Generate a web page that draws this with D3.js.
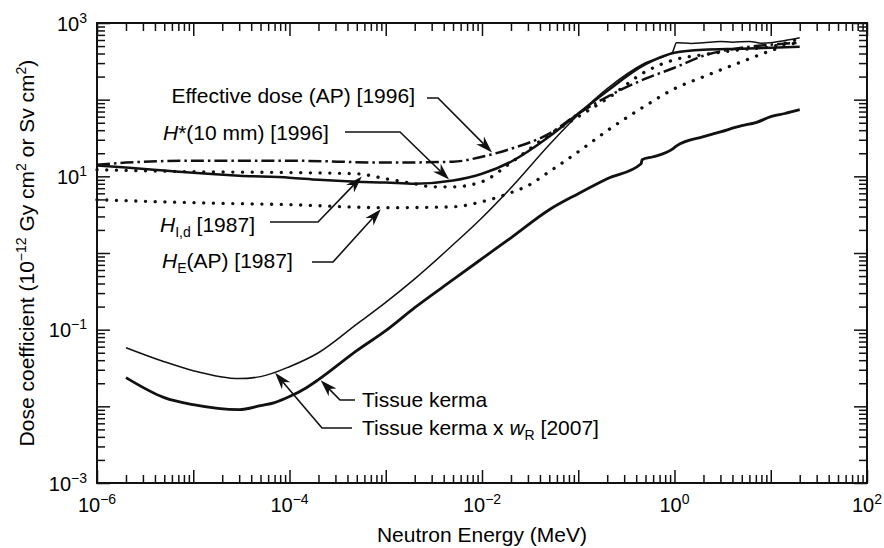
<!DOCTYPE html>
<html>
<head>
<meta charset="utf-8">
<script src="https://cdn.jsdelivr.net/npm/d3@7/dist/d3.min.js"></script>
<style>
  body { margin: 0; background: #fff; }
  #chart svg { display: block; font-family: "Liberation Sans", Arial, Helvetica, sans-serif; }
  #chart text { white-space: pre; }
</style>
</head>
<body>
<div id="chart"></div>
<script>
// values
// neutron energy (MeV) and dose coefficient (1e-12 Gy cm2 or Sv cm2)

const kermaE = [2e-6, 5e-6, 1e-5, 3e-5, 5e-5, 7e-5, 1e-4, 1.5e-4, 2e-4, 5e-4, 1e-3, 2e-3, 5e-3, 1e-2, 2e-2, 5e-2, 0.1, 0.2, 0.45, 0.46, 0.6, 0.95, 1.05, 2, 3, 5, 7, 10, 14, 20];
const kermaV = [0.0237, 0.0130, 0.0105, 0.00904, 0.0102, 0.0112, 0.0134, 0.0175, 0.0223, 0.0532, 0.097, 0.194, 0.449, 0.843, 1.58, 3.67, 5.94, 9.3, 14.6, 16.5, 18.0, 22.6, 25.0, 32.9, 38, 45.8, 50.1, 60, 66, 74];

const kermaWrE = [2e-6, 5e-6, 1e-5, 3e-5, 5e-5, 1e-4, 2e-4, 5e-4, 1e-3, 2e-3, 5e-3, 1e-2, 2e-2, 5e-2, 0.1, 0.2, 0.5, 0.95, 1.05, 1.5, 2, 3, 4, 6, 8, 10, 14, 20];
const kermaWrV = [0.0582, 0.0382, 0.0292, 0.0230, 0.0244, 0.0329, 0.0500, 0.118, 0.227, 0.46, 1.28, 2.89, 7.1, 25.9, 63.7, 139, 303, 415, 553, 540, 553, 575, 560, 575, 545, 553, 590, 643];

const hStarE = [1e-6, 2e-6, 5e-6, 1e-5, 3e-5, 1e-4, 2e-4, 5e-4, 1e-3, 2e-3, 5e-3, 1e-2, 2e-2, 5e-2, 0.1, 0.2, 0.5, 1, 2, 5, 10, 20];
const hStarV = [13.8, 13.0, 11.9, 11.1, 10.2, 9.6, 9.0, 8.5, 8.3, 8.0, 8.8, 10.8, 15.5, 33, 66, 130, 290, 410, 449, 462, 476, 491];

const effE = [1e-6, 2e-6, 1e-5, 1e-4, 1e-3, 5e-3, 1e-2, 2e-2, 5e-2, 0.1, 0.2, 0.5, 1, 2, 5, 10, 20];
const effV = [14.2, 15.1, 16.0, 16.0, 15.1, 15.5, 18.0, 22.9, 36, 65.6, 109, 188, 261, 374, 476, 521, 553];

const hIdE = [1e-6, 1e-5, 1e-4, 5e-4, 1e-3, 2e-3, 3e-3, 5e-3, 1e-2, 2e-2, 5e-2, 0.1, 0.2, 0.5, 1, 2, 5, 10, 20];
const hIdV = [12.2, 11.5, 11.2, 10.8, 9.3, 8.0, 7.3, 7.3, 8.5, 15.1, 34.9, 60, 103, 232, 332, 386, 449, 491, 624];

const hEE = [1e-6, 1e-5, 1e-4, 1e-3, 5e-3, 1e-2, 2e-2, 3e-2, 5e-2, 0.1, 0.2, 0.5, 1, 2, 5, 10, 20];
const hEV = [4.96, 4.53, 4.27, 3.90, 4.0, 4.67, 6.12, 7.55, 11.5, 20.9, 39.4, 83.4, 139, 199, 312, 435, 570];

// exponents that get a "10^n" label
const xLabelExp = [-6, -4, -2, 0, 2];
const yLabelExp = [-3, -1, 1, 3];

const width = 884, height = 548;
const margin = {top: 23, right: 17, bottom: 65, left: 97};
const w = width - margin.left - margin.right;
const h = height - margin.top - margin.bottom;

const svg = d3.select("#chart").append("svg")
    .attr("width", width)
    .attr("height", height);

const g = svg.append("g")
    .attr("transform", `translate(${margin.left},${margin.top})`);

const x = d3.scaleLog().domain([1e-6, 1e2]).range([0, w]);
const y = d3.scaleLog().domain([1e-3, 1e3]).range([h, 0]);

// log ticks: majors at decades, minors at 2..9
function logTicks(lo, hi) {
    let major = [], minor = [];
    for (let p = lo; p <= hi; p++) {
        major.push(Math.pow(10, p));
        if (p < hi) for (let m = 2; m <= 9; m++) minor.push(m * Math.pow(10, p));
    }
    return {major, minor};
}
const xt = logTicks(-6, 2), yt = logTicks(-3, 3);

function tickRow(makeAxis, scale, values, size, transform) {
    g.append("g")
        .attr("transform", transform)
        .call(makeAxis(scale).tickValues(values).tickSize(size).tickSizeOuter(0).tickFormat(""))
        .call(a => a.select(".domain").remove())
        .call(a => a.selectAll("line").attr("stroke", "#111").attr("stroke-width", 1.5));
}
[[xt.major, -13], [xt.minor, -8]].forEach(([v, s]) => {
    tickRow(d3.axisBottom, x, v, s, `translate(0,${h})`);
    tickRow(d3.axisTop, x, v, s, "translate(0,0)");
});
[[yt.major, -13], [yt.minor, -8]].forEach(([v, s]) => {
    tickRow(d3.axisLeft, y, v, s, "translate(0,0)");
    tickRow(d3.axisRight, y, v, s, `translate(${w},0)`);
});

g.append("rect")
    .attr("width", w).attr("height", h)
    .attr("fill", "none").attr("stroke", "#111").attr("stroke-width", 2);

// text with italic / sub / sup pieces
function richText(sel, parts, size) {
    let shift = 0;
    parts.forEach(p => {
        const ts = sel.append("tspan").text(p.t);
        const target = p.sub ? 5 : p.sup ? -8 : 0;
        if (target !== shift) { ts.attr("dy", target - shift); shift = target; }
        if (p.sub || p.sup) ts.attr("font-size", Math.round(size * 0.68));
        if (p.it) ts.attr("font-style", "italic");
    });
}
const expText = d => d < 0 ? "\u2212" + (-d) : String(d);

g.selectAll(".xlab").data(xLabelExp).enter().append("text")
    .attr("class", "xlab")
    .attr("x", d => x(Math.pow(10, d)))
    .attr("y", h + 29)
    .attr("text-anchor", "middle")
    .attr("font-size", 20)
    .each(function(d) { richText(d3.select(this), [{t: "10"}, {t: expText(d), sup: true}], 20); });

g.selectAll(".ylab").data(yLabelExp).enter().append("text")
    .attr("class", "ylab")
    .attr("x", -10)
    .attr("y", d => y(Math.pow(10, d)) + 7.5)
    .attr("text-anchor", "end")
    .attr("font-size", 20)
    .each(function(d) { richText(d3.select(this), [{t: "10"}, {t: expText(d), sup: true}], 20); });

// axis titles
g.append("text")
    .attr("x", w / 2).attr("y", h + 59)
    .attr("text-anchor", "middle")
    .attr("font-size", 21)
    .text("Neutron Energy (MeV)");

richText(g.append("text")
    .attr("transform", `translate(-63,${h / 2}) rotate(-90)`)
    .attr("text-anchor", "middle")
    .attr("font-size", 21),
    [{t: "Dose coefficient (10"}, {t: "\u221212", sup: true}, {t: " Gy cm"}, {t: "2", sup: true},
     {t: " or Sv cm"}, {t: "2", sup: true}, {t: ")"}], 21);

// curves
const series = {
    effAP:   {E: effE, V: effV, sw: 2.5, dash: "13,4,2.5,4", cap: "butt"},
    hStar:   {E: hStarE, V: hStarV, sw: 2.5, dash: null, cap: "butt"},
    hId:     {E: hIdE, V: hIdV, sw: 3.3, dash: "0.1,9.6", cap: "round"},
    hE:      {E: hEE, V: hEV, sw: 3.3, dash: "0.1,9.6", cap: "round"},
    kermaWr: {E: kermaWrE, V: kermaWrV, sw: 1.5, dash: null, cap: "butt"},
    kerma:   {E: kermaE, V: kermaV, sw: 2.8, dash: null, cap: "butt"}
};

const line = d3.line()
    .x(d => x(d[0]))
    .y(d => y(d[1]))
    .curve(d3.curveMonotoneX);

Object.values(series).forEach(s => {
    g.append("path")
        .datum(s.E.map((e, i) => [e, s.V[i]]))
        .attr("d", line)
        .attr("fill", "none")
        .attr("stroke", "#111")
        .attr("stroke-width", s.sw)
        .attr("stroke-linecap", s.cap)
        .attr("stroke-linejoin", "round")
        .attr("stroke-dasharray", s.dash);
});

// log-log interpolation of a series at energy e
function valueAt(s, e) {
    const le = Math.log10(e);
    for (let i = 1; i < s.E.length; i++) {
        if (e <= s.E[i]) {
            const a = Math.log10(s.E[i - 1]), b = Math.log10(s.E[i]);
            const t = (le - a) / (b - a);
            return Math.pow(10, Math.log10(s.V[i - 1]) + t * (Math.log10(s.V[i]) - Math.log10(s.V[i - 1])));
        }
    }
    return s.V[s.V.length - 1];
}

// labels with leader lines and arrows (positions inside the plot group)
const notes = [
    {parts: [{t: "Effective dose (AP) [1996]"}], tx: 318, ty: 80, anchor: "end",
     leader: [[330, 75], [341, 75]], key: "effAP", e: 0.0131},
    {parts: [{t: "H", it: true}, {t: "*(10 mm) [1996]"}], tx: 66, ty: 117, anchor: "start",
     leader: [[248, 109], [303, 109]], key: "hStar", e: 0.00469},
    {parts: [{t: "H", it: true}, {t: "I,d", sub: true}, {t: " [1987]"}], tx: 63, ty: 209, anchor: "start",
     leader: [[173, 199], [221, 199]], key: "hId", e: 5.85e-4},
    {parts: [{t: "H", it: true}, {t: "E", sub: true}, {t: "(AP) [1987]"}], tx: 65, ty: 245, anchor: "start",
     leader: [[215, 239], [236, 239]], key: "hE", e: 9.2e-4},
    {parts: [{t: "Tissue kerma"}], tx: 265, ty: 384, anchor: "start",
     leader: [[258, 377], [243, 377]], key: "kerma", e: 2.04e-4},
    {parts: [{t: "Tissue kerma x "}, {t: "w", it: true}, {t: "R", sub: true}, {t: " [2007]"}], tx: 265, ty: 412, anchor: "start",
     leader: [[255, 405], [225, 405]], key: "kermaWr", e: 6.95e-5}
];

notes.forEach(n => {
    richText(g.append("text")
        .attr("x", n.tx).attr("y", n.ty)
        .attr("text-anchor", n.anchor)
        .attr("font-size", 21), n.parts, 21);

    const s = series[n.key];
    const elbow = n.leader[1];
    const cx = x(n.e), cy = y(valueAt(s, n.e));
    let dx = cx - elbow[0], dy = cy - elbow[1];
    const len = Math.hypot(dx, dy);
    const ux = dx / len, uy = dy / len;
    const tip = [cx - ux * (s.sw / 2 + 0.5), cy - uy * (s.sw / 2 + 0.5)];
    const L = 17, hw = 5.5, notch = 5;
    const back = [tip[0] - ux * (L - notch), tip[1] - uy * (L - notch)];

    g.append("path")
        .attr("d", d3.line()([n.leader[0], elbow, back]))
        .attr("fill", "none").attr("stroke", "#111").attr("stroke-width", 1.6);

    const bx = tip[0] - ux * L, by = tip[1] - uy * L;
    g.append("path")
        .attr("d", d3.line()([tip, [bx - uy * hw, by + ux * hw], back, [bx + uy * hw, by - ux * hw]]) + "Z")
        .attr("fill", "#111");
});
</script>
</body>
</html>
